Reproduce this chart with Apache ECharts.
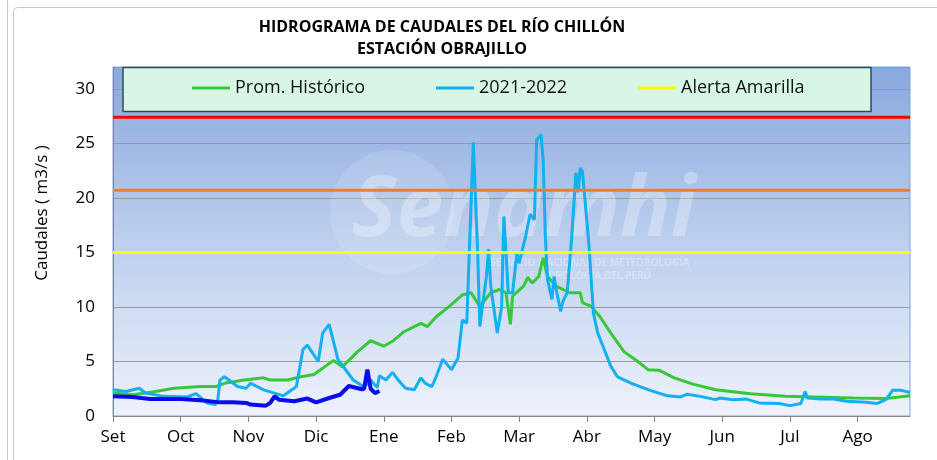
<!DOCTYPE html>
<html>
<head>
<meta charset="utf-8">
<script src="https://cdn.jsdelivr.net/npm/echarts@6/dist/echarts.min.js"></script>
<style>
html, body { margin: 0; padding: 0; background: #fff; }
#chart { width: 937px; height: 460px; }
</style>
</head>
<body>
<div id="chart"></div>
<script>
// meses del año hidrológico (una marca cada 31 días)
const meses = ['Set', 'Oct', 'Nov', 'Dic', 'Ene', 'Feb', 'Mar', 'Abr', 'May', 'Jun', 'Jul', 'Ago'];
const marcasDias = [0, 31, 62, 93, 124, 155, 186, 217, 248, 279, 310, 341];

// [día desde el 1 de setiembre, caudal m3/s]
const promHistorico = [
  [0, 2.1], [9, 1.95], [18, 2.2], [28, 2.55], [40, 2.7], [47, 2.7], [51, 3.0], [60, 3.3],
  [69, 3.5], [72, 3.3], [80, 3.3], [86, 3.6], [92, 3.8], [101, 5.1], [105, 4.5], [112, 5.9],
  [118, 6.9], [124, 6.4], [128, 6.85], [133, 7.7], [141, 8.5], [144, 8.2], [148, 9.1],
  [154, 10.05], [160, 11.1], [164, 11.3], [168, 10.05], [173, 11.3], [177, 11.6], [180, 11.3],
  [182, 8.4], [183, 11.0], [188, 11.9], [190, 12.7], [192, 12.2], [195, 12.8], [197, 14.5],
  [199, 12.8], [203, 11.9], [209, 11.3], [214, 11.3], [215, 10.4], [219, 10.05], [223, 9.1],
  [228, 7.6], [234, 5.9], [241, 4.9], [245, 4.25], [250, 4.2], [257, 3.5], [266, 2.9],
  [276, 2.4], [292, 2.05], [308, 1.8], [339, 1.65], [354, 1.6], [365, 1.85]
];

const serie2021 = [
  [0, 2.4], [6, 2.25], [12, 2.55], [15, 2.1], [23, 1.8], [34, 1.75], [38, 2.05], [43, 1.2],
  [47, 1.05], [48, 1.5], [49, 3.3], [51, 3.6], [57, 2.7], [61, 2.55], [63, 3.0], [69, 2.4],
  [78, 1.85], [84, 2.7], [87, 6.1], [89, 6.5], [94, 5.0], [96, 7.6], [99, 8.4], [100, 7.6],
  [103, 5.2], [110, 3.3], [115, 2.65], [118, 3.3], [121, 2.6], [122, 3.7], [125, 3.3],
  [128, 4.0], [131, 3.2], [134, 2.55], [138, 2.4], [141, 3.5], [143, 3.0], [146, 2.7],
  [148, 3.6], [151, 5.2], [154, 4.5], [155, 4.25], [158, 5.3], [160, 8.8], [162, 8.5],
  [165, 25.1], [167, 15.0], [168, 8.2], [171, 12.8], [172, 15.3], [173, 11.9], [176, 7.6],
  [178, 10.05], [179, 18.3], [180, 15.0], [181, 11.3], [183, 11.3], [185, 15.0], [186, 14.0],
  [189, 16.5], [191, 18.5], [193, 18.0], [194, 25.3], [196, 25.8], [197, 23.5], [198, 16.5],
  [199, 12.5], [201, 10.7], [202, 12.8], [203, 11.6], [205, 9.6], [206, 10.5], [208, 11.3],
  [210, 16.2], [212, 22.3], [213, 20.5], [214, 22.75], [215, 22.4], [218, 15.6], [220, 9.45],
  [222, 7.6], [225, 6.1], [228, 4.55], [231, 3.6], [233, 3.4], [238, 2.95], [242, 2.65],
  [246, 2.35], [254, 1.85], [260, 1.75], [263, 2.0], [269, 1.8], [276, 1.5], [278, 1.65],
  [284, 1.5], [290, 1.55], [296, 1.2], [305, 1.15], [310, 0.95], [315, 1.15], [317, 2.25],
  [318, 1.65], [324, 1.55], [330, 1.55], [336, 1.35], [345, 1.25], [350, 1.15], [354, 1.5],
  [357, 2.35], [361, 2.35], [365, 2.15]
];

const serie2022 = [
  [0, 1.8], [9, 1.75], [17, 1.55], [31, 1.55], [40, 1.45], [49, 1.25], [55, 1.25], [61, 1.2],
  [63, 1.05], [70, 0.95], [72, 1.2], [74, 1.8], [76, 1.5], [83, 1.35], [89, 1.6], [93, 1.25],
  [99, 1.65], [104, 1.95], [108, 2.75], [114, 2.45], [115, 2.5], [116.5, 4.25], [118, 2.5],
  [120, 2.1], [122, 2.3]
];

const alertaAmarilla = 15.0;
const alertaNaranja = 20.7;
const alertaRoja = 27.4;

const fuente = 'Open Sans';

function lineaUmbral(valor) {
  return [[0, valor], [365, valor]];
}

const chart = echarts.init(document.getElementById('chart'));

const legendaBase = {
  icon: 'rect',
  itemWidth: 38,
  itemHeight: 3,
  padding: 0,
  top: 79,
  z: 20,
  selectedMode: false,
  textStyle: { fontSize: 18, fontFamily: fuente, color: '#111' }
};

const option = {
  animation: false,
  backgroundColor: '#fff',
  grid: {
    left: 113,
    right: 27,
    top: 67,
    bottom: 44,
    show: true,
    borderColor: '#7ea6da',
    borderWidth: 1,
    backgroundColor: new echarts.graphic.LinearGradient(0, 0, 0, 1, [
      { offset: 0, color: '#8aa8dd' },
      { offset: 0.5, color: '#bccfee' },
      { offset: 1, color: '#eef2fc' }
    ])
  },
  graphic: [
    // bordes del marco
    { type: 'line', z: 0, shape: { x1: 7.5, y1: 0, x2: 7.5, y2: 460 }, style: { stroke: '#c8c8c8', lineWidth: 1 } },
    { type: 'rect', z: 0, shape: { x: 13.5, y: 7.5, width: 940, height: 470, r: 4 }, style: { fill: 'none', stroke: '#c8c8c8', lineWidth: 1 } },
    // título
    { type: 'text', z: 5, x: 442, y: 27, style: { text: 'HIDROGRAMA DE CAUDALES DEL RÍO CHILLÓN', align: 'center', verticalAlign: 'middle', font: 'bold 16px "Open Sans"', fill: '#000' } },
    { type: 'text', z: 5, x: 442, y: 49, style: { text: 'ESTACIÓN OBRAJILLO', align: 'center', verticalAlign: 'middle', font: 'bold 16px "Open Sans"', fill: '#000' } },
    // título del eje y
    { type: 'text', z: 5, x: 42, y: 213, rotation: Math.PI / 2, style: { text: 'Caudales ( m3/s )', align: 'center', verticalAlign: 'middle', font: '17px "Open Sans"', fill: '#000' } },
    // marca de agua
    { type: 'circle', z: 1, silent: true, shape: { cx: 392, cy: 212, r: 62 }, style: { fill: 'rgba(255,255,255,0.13)' } },
    { type: 'text', z: 1, silent: true, x: 352, y: 212, style: { text: 'Senamhi', align: 'left', verticalAlign: 'middle', font: 'italic bold 84px "Open Sans"', fill: 'rgba(255,255,255,0.3)' } },
    { type: 'text', z: 1, silent: true, x: 590, y: 270, style: { text: 'SERVICIO NACIONAL DE METEOROLOGÍA\nE HIDROLOGÍA DEL PERÚ', align: 'center', verticalAlign: 'middle', lineHeight: 13, font: 'bold 10px "Open Sans"', fill: 'rgba(255,255,255,0.3)' } },
    // caja de la leyenda
    { type: 'rect', z: 10, shape: { x: 123, y: 67.5, width: 748, height: 44 }, style: { fill: '#d8f6e6', stroke: '#2f4a62', lineWidth: 1.5 } }
  ],
  legend: [
    Object.assign({}, legendaBase, { left: 192, data: ['Prom. Histórico'] }),
    Object.assign({}, legendaBase, { left: 436, data: ['2021-2022'] }),
    Object.assign({}, legendaBase, { left: 638, data: ['Alerta Amarilla'] })
  ],
  xAxis: {
    type: 'value',
    min: 0,
    max: 365,
    interval: 31,
    axisLine: { show: true, lineStyle: { color: '#868686', width: 1 } },
    axisTick: { show: true, length: 6, customValues: marcasDias, lineStyle: { color: '#868686' } },
    splitLine: { show: false },
    axisLabel: {
      customValues: marcasDias,
      margin: 13,
      fontSize: 17,
      fontFamily: fuente,
      color: '#000',
      formatter: function (v) {
        const i = marcasDias.indexOf(v);
        return i >= 0 ? meses[i] : '';
      }
    }
  },
  yAxis: {
    type: 'value',
    min: 0,
    max: 32,
    interval: 5,
    axisLine: { show: true, lineStyle: { color: '#868686', width: 1 } },
    axisTick: { show: false },
    splitLine: { show: true, lineStyle: { color: '#999', width: 1.2 } },
    axisLabel: {
      showMaxLabel: false,
      margin: 18,
      fontSize: 17,
      fontFamily: fuente,
      color: '#000'
    }
  },
  series: [
    {
      name: 'Prom. Histórico', type: 'line', data: promHistorico, showSymbol: false,
      color: '#37c837', lineStyle: { width: 3, color: '#37c837' }
    },
    {
      name: '2021-2022', type: 'line', data: serie2021, showSymbol: false,
      color: '#12b0ee', lineStyle: { width: 3, color: '#12b0ee' }
    },
    {
      name: '2022-2023', type: 'line', data: serie2022, showSymbol: false,
      color: '#0a0af0', lineStyle: { width: 4, color: '#0a0af0' }
    },
    {
      name: 'Alerta Amarilla', type: 'line', data: lineaUmbral(alertaAmarilla), showSymbol: false,
      color: '#ffff00', lineStyle: { width: 3, color: '#ffff00' }
    },
    {
      name: 'Alerta Naranja', type: 'line', data: lineaUmbral(alertaNaranja), showSymbol: false,
      color: '#ed7d31', lineStyle: { width: 3, color: '#ed7d31' }
    },
    {
      name: 'Alerta Roja', type: 'line', data: lineaUmbral(alertaRoja), showSymbol: false,
      color: '#ff0000', lineStyle: { width: 3, color: '#ff0000' }
    }
  ]
};

chart.setOption(option);
</script>
</body>
</html>
